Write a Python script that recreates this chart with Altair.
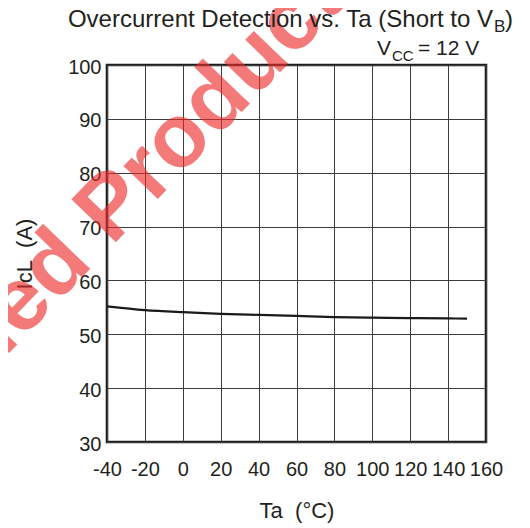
import altair as alt
import pandas as pd

# ---- data ----
ta = [-40, -20, 0, 20, 40, 60, 80, 100, 120, 140, 150]
icl = [55.2, 54.5, 54.1, 53.8, 53.6, 53.4, 53.2, 53.1, 53.0, 52.95, 52.9]
x_ticks = [-40, -20, 0, 20, 40, 60, 80, 100, 120, 140, 160]
y_ticks = [30, 40, 50, 60, 70, 80, 90, 100]

title_main = ["Overcurrent Detection vs. Ta (Short to V"]
title_sub = ["B"]
title_end = [")"]
cond_main = ["V"]
cond_sub = ["CC"]
cond_end = ["= 12 V"]
watermark = ["Discontinued Product"]
x_title = "Ta\u00a0\u00a0(°C)"
y_title = "IcL\u00a0\u00a0(A)"

FONT = "Liberation Sans"
TXT = "#231f20"

df = pd.DataFrame({"Ta": ta, "IcL": icl})

x_scale = alt.Scale(domain=[-40, 160], nice=False, zero=False)
y_scale = alt.Scale(domain=[30, 100], nice=False, zero=False)

hyphen_labels = "datum.value < 0 ? '-' + abs(datum.value) : '' + datum.value"

wm = alt.Chart(pd.DataFrame({"t": watermark})).mark_text(
    font=FONT, fontSize=90, fontWeight="bold", angle=314,
    color="#ee2a2a", opacity=0.62, align="right", baseline="alphabetic"
).encode(x=alt.value(241), y=alt.value(-63), text="t:N")

line = alt.Chart(df).mark_line(
    color="#1a1a1a", strokeWidth=2.2, interpolate="monotone"
).encode(
    x=alt.X("Ta:Q", scale=x_scale,
            axis=alt.Axis(values=x_ticks, title=x_title, labelPadding=17,
                          titlePadding=21, labelFlush=False,
                          labelExpr=hyphen_labels)),
    y=alt.Y("IcL:Q", scale=y_scale,
            axis=alt.Axis(values=y_ticks, title=y_title, labelPadding=6,
                          titlePadding=31, labelOffset=2, labelFlush=False)),
)

def txt(lst, x, y, size, align="left"):
    return alt.Chart(pd.DataFrame({"t": lst})).mark_text(
        font=FONT, fontSize=size, color=TXT, align=align, baseline="alphabetic"
    ).encode(x=alt.value(x), y=alt.value(y), text="t:N")

t1 = txt(title_main, 386, -38, 24, align="right")
t2 = txt(title_sub, 387, -33, 17)
t3 = txt(title_end, 398, -38, 24)
c1 = txt(cond_main, 270, -10, 21)
c2 = txt(cond_sub, 285, -4, 15)
c3 = txt(cond_end, 311, -10, 21)

chart = alt.layer(wm, line, t1, t2, t3, c1, c2, c3).properties(
    width=379, height=377,
    autosize=alt.AutoSizeParams(type="none"),
    padding={"left": 99, "top": 57, "right": 36, "bottom": 84},
).configure_view(
    stroke="#1e1e1e", strokeWidth=2.6
).configure_axis(
    labelFont=FONT, labelFontSize=20, labelColor=TXT,
    titleFont=FONT, titleFontSize=22, titleFontWeight="normal", titleColor=TXT,
    grid=True, gridColor="#3c3c3c", gridWidth=1, gridOpacity=1,
    domain=False, ticks=False, tickSize=0, zindex=1,
)

chart.save("out.html", embed_options={"renderer": "svg", "actions": False})
